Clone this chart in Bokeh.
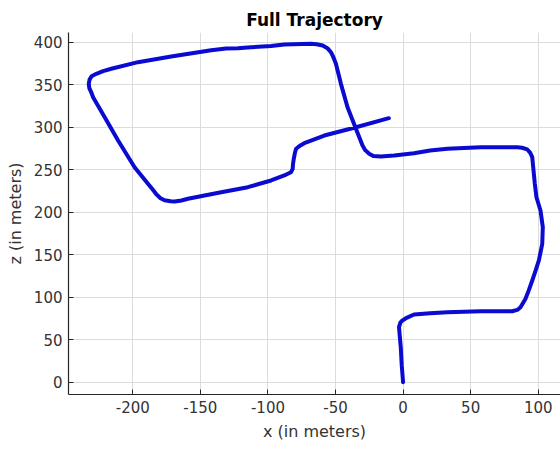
from bokeh.plotting import figure
from bokeh.models import FixedTicker, Range1d
from bokeh.embed import file_html
from bokeh.resources import INLINE

x_m = [0, -1.0, -1.7, -2.5, -3.0, -2.0, -0.5, 3.0, 8.1, 20, 32.8, 45, 57.4, 70, 80.8, 84.5, 86.9,
       90.6, 93, 95.6, 98, 100.5, 103, 103.4, 101.7, 98.7, 97.5, 96.3, 95.6, 94, 91.9, 88, 84.5,
       70, 57.4, 45, 32.8, 20, 8.1, -6.6, -16.5, -22, -25.1, -28, -30, -34.9, -41.1, -46, -49.7,
       -51.5, -53.4, -56, -59.5, -64, -68.2, -87.9, -97.7, -112.5, -122.3, -131, -142, -171.6,
       -196.2, -215.9, -222, -227, -230.5, -232, -232.6, -232.2, -230.5, -229.4, -220.8, -210.9,
       -198.7, -188.8, -185, -182.6, -179.5, -176.5, -172, -169.1, -164, -159.2, -134.6, -114.9,
       -97.7, -87.9, -83, -81.7, -81.5, -80.9, -80, -79.2, -76, -73.1, -58.3, -36.2, -10.5]
z_m = [0, 20, 41, 55, 64.7, 70, 72.6, 76, 79.6, 81.2, 82.4, 83, 83.5, 83.5, 83.5, 85, 88.2,
       98.1, 108, 119.6, 131, 143.2, 162.8, 182.4, 202, 217.6, 233.4, 253, 264.7, 270, 273.8,
       275.8, 276.5, 276.5, 276.5, 275.5, 274.6, 272.5, 269.4, 266.7, 265.5, 266, 268.7, 273,
       278.5, 298.1, 323.5, 351, 374.6, 382, 388.2, 393, 396.1, 397.5, 398.1, 397.3, 395.5,
       394.1, 393.0, 392.5, 390.5, 383.2, 376.5, 368.7, 366, 362.8, 360, 356, 351, 346, 340,
       335.3, 311.8, 284.4, 252.9, 233.4, 226, 221, 216.5, 214, 212.8, 212.6, 213.8, 215.8,
       223.5, 229.4, 237.3, 243.2, 247, 251, 256, 262.8, 270, 274.6, 278.5, 281.2, 290.2,
       299.3, 310.6]

x_ticks = [-200, -150, -100, -50, 0, 50, 100]
z_ticks = [0, 50, 100, 150, 200, 250, 300, 350, 400]

p = figure(width=560, height=450, output_backend="svg", toolbar_location=None,
           x_range=Range1d(-247.6, 116.5), y_range=Range1d(-14.5, 411.4),
           min_border_left=68, min_border_right=0, min_border_top=32, min_border_bottom=56,
           title="Full Trajectory")
p.outline_line_color = None
p.background_fill_color = "white"
p.border_fill_color = "white"

p.title.align = "center"
p.title.text_font = "DejaVu Sans"
p.title.text_font_size = "17px"
p.title.text_font_style = "bold"
p.title.text_color = "#000000"
p.title.standoff = 6

for ax, ticks in ((p.xaxis, x_ticks), (p.yaxis, z_ticks)):
    ax.ticker = FixedTicker(ticks=ticks)
    ax.major_label_overrides = {t: str(t) for t in ticks}
    ax.major_tick_in = 5
    ax.major_tick_out = 0
    ax.minor_tick_line_color = None
    ax.axis_line_color = "#262626"
    ax.axis_line_width = 1.2
    ax.major_tick_line_color = "#262626"
    ax.major_label_text_font = "DejaVu Sans"
    ax.major_label_text_font_size = "15px"
    ax.major_label_text_color = "#333333"
    ax.axis_label_text_font = "DejaVu Sans"
    ax.axis_label_text_font_size = "16px"
    ax.axis_label_text_font_style = "normal"
    ax.axis_label_text_color = "#333333"
    ax.major_label_standoff = 6
    ax.axis_label_standoff = 6

p.xaxis.axis_label = "x (in meters)"
p.yaxis.axis_label = "z (in meters)"

p.xgrid.ticker = FixedTicker(ticks=x_ticks)
p.ygrid.ticker = FixedTicker(ticks=z_ticks)
p.grid.grid_line_color = "#dcdcdc"
p.grid.grid_line_width = 1

p.line(x_m, z_m, line_color="#0a0ad0", line_width=4, line_join="round", line_cap="round")

open("out.html", "w").write(file_html(p, INLINE))
